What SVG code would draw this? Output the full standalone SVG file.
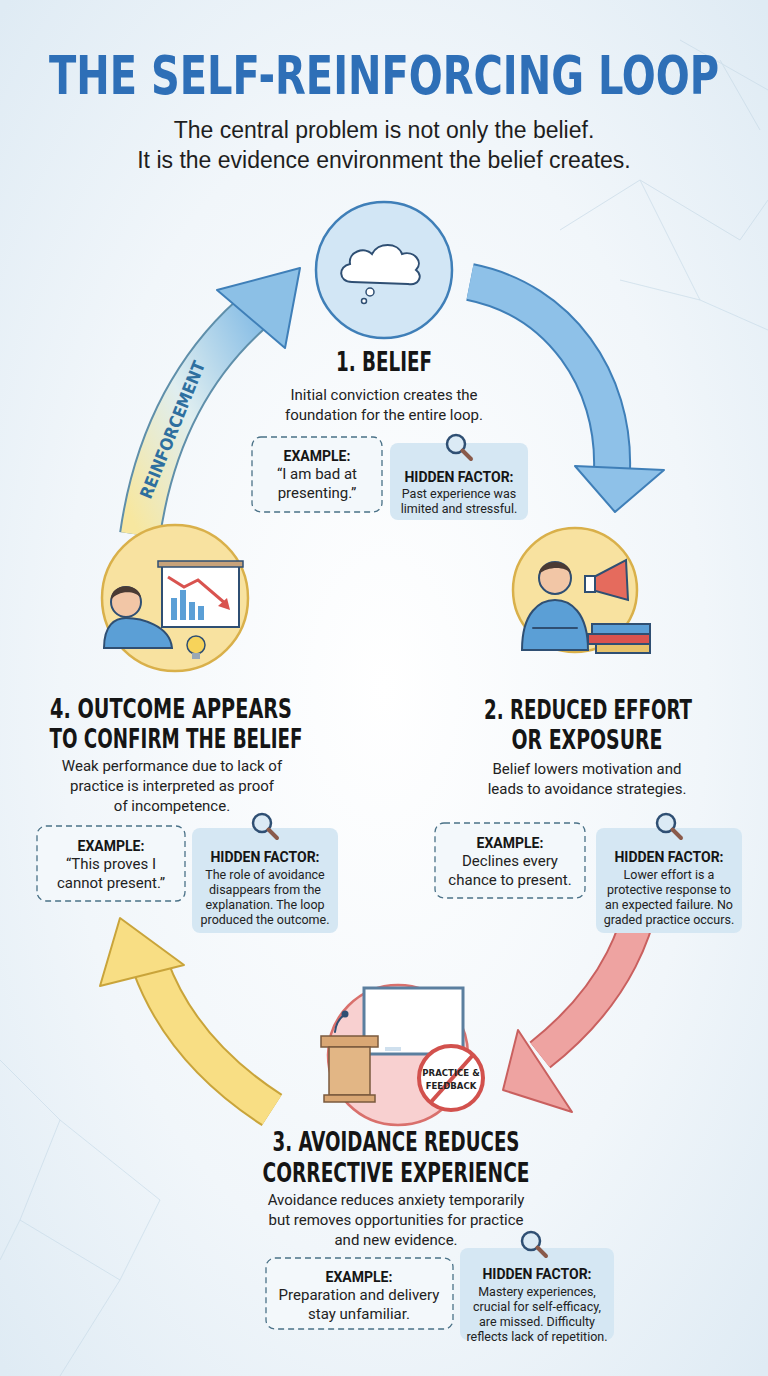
<svg xmlns="http://www.w3.org/2000/svg" width="768" height="1376" viewBox="0 0 768 1376">
<defs>
<radialGradient id="bg" cx="0.5" cy="0.5" r="0.7"><stop offset="0" stop-color="#ffffff"/><stop offset="0.6" stop-color="#f1f6fa"/><stop offset="1" stop-color="#dfebf4"/></radialGradient>
<linearGradient id="rg" x1="0" y1="1" x2="1" y2="0"><stop offset="0" stop-color="#f7e7a0"/><stop offset="0.5" stop-color="#dfeef0"/><stop offset="1" stop-color="#8cc0e6"/></linearGradient>
<g id="mag"><circle cx="0" cy="0" r="9" fill="#dbeaf5" stroke="#2f4f73" stroke-width="2.5"/><line x1="6.5" y1="6.5" x2="15" y2="15" stroke="#8a5a4a" stroke-width="4" stroke-linecap="round"/></g>
</defs>
<style>
.title{font-family:"DejaVu Sans Condensed","DejaVu Sans",sans-serif;font-weight:bold;fill:#2e6fb7}
.sub{font-family:"Liberation Sans",Arial,sans-serif;font-size:23px;fill:#1e1e1e;text-anchor:middle}
.h{font-family:"DejaVu Sans Condensed","DejaVu Sans",sans-serif;font-weight:bold;font-size:27px;fill:#151515;text-anchor:middle}
.t{font-family:"Roboto","Liberation Sans",sans-serif;font-size:15px;fill:#222;text-anchor:middle}
.lb{font-family:"Roboto","Liberation Sans",sans-serif;font-weight:bold;font-size:14px;fill:#151515;text-anchor:middle}
.ex{font-family:"Roboto","Liberation Sans",sans-serif;font-size:15px;fill:#222;text-anchor:middle}
.hf{font-family:"Roboto","Liberation Sans",sans-serif;font-size:12.5px;fill:#222;text-anchor:middle}
.exbox{fill:#f3f8fb;stroke:#4a7187;stroke-width:1.3;stroke-dasharray:6 4}
.hbox{fill:#d5e7f3}
.ln{stroke:#2f4f73;stroke-width:2;fill:none;stroke-linecap:round;stroke-linejoin:round}
</style>
<rect width="768" height="1376" fill="url(#bg)"/>
<g stroke="#c9dbe8" stroke-width="1" fill="none" opacity="0.7">
<path d="M560 230 L640 180 L740 240 L768 200 M640 180 L700 300 L768 330 M700 300 L620 280"/>
<path d="M0 1060 L60 1120 L20 1220 L120 1280 L60 1376 M60 1120 L160 1200 L120 1280 M20 1220 L0 1260"/>
<path d="M680 40 L768 90 M720 60 L760 130"/>
</g>
<text x="384" y="94" class="title" font-size="54" text-anchor="middle" textLength="670" lengthAdjust="spacingAndGlyphs">THE SELF-REINFORCING LOOP</text>
<text x="384" y="138" class="sub">The central problem is not only the belief.</text>
<text x="384" y="168" class="sub">It is the evidence environment the belief creates.</text>
<g id="connectors">
<path d="M470 282 C560 300 615 380 612 470" fill="none" stroke="#3f7fb8" stroke-width="38"/>
<path d="M470 282 C560 300 615 380 612 470" fill="none" stroke="#8ec1e8" stroke-width="34"/>
<polygon points="575,466 664,470 615,512" fill="#8ec1e8" stroke="#3f7fb8" stroke-width="2" stroke-linejoin="round"/>
<path d="M650 832 C650 930 610 1000 540 1055" fill="none" stroke="#c9605f" stroke-width="34"/>
<path d="M650 832 C650 930 610 1000 540 1055" fill="none" stroke="#eea3a1" stroke-width="30"/>
<polygon points="503,1090 518,1030 572,1112" fill="#eea3a1" stroke="#c9605f" stroke-width="2" stroke-linejoin="round"/>
<path d="M272 1110 C210 1070 170 1020 150 965" fill="none" stroke="#c9a43a" stroke-width="38"/>
<path d="M272 1110 C210 1070 170 1020 150 965" fill="none" stroke="#f8de84" stroke-width="34"/>
<polygon points="120,918 100,986 184,965" fill="#f8de84" stroke="#c9a43a" stroke-width="2" stroke-linejoin="round"/>
<path d="M140 535 C155 430 200 360 250 315" fill="none" stroke="#5f8faa" stroke-width="42"/>
<path d="M140 535 C155 430 200 360 250 315" fill="none" stroke="url(#rg)" stroke-width="38"/>
<polygon points="300,268 217,290 285,348" fill="#8cc0e6" stroke="#3f7fb8" stroke-width="2" stroke-linejoin="round"/>
<text transform="translate(178,432) rotate(-68)" font-family="DejaVu Sans Condensed,DejaVu Sans,sans-serif" font-weight="bold" font-size="17" fill="#2e6f9f" text-anchor="middle">REINFORCEMENT</text>
</g>
<g id="node1">
<circle cx="384" cy="270" r="68" fill="#d2e6f5" stroke="#3f7fb8" stroke-width="2.5"/>
<path d="M352 282 C338 282 338 266 350 264 C348 252 364 246 372 254 C378 242 398 242 402 254 C414 250 424 262 416 270 C424 276 418 286 408 284 Z" fill="#fff" stroke="#2f4f73" stroke-width="2"/>
<circle cx="370" cy="292" r="4" fill="#fff" stroke="#2f4f73" stroke-width="1.5"/>
<circle cx="364" cy="301" r="2.5" fill="#fff" stroke="#2f4f73" stroke-width="1.5"/>
<text x="384" y="371" class="h" textLength="96" lengthAdjust="spacingAndGlyphs">1. BELIEF</text>
<text x="384" y="400" class="t">Initial conviction creates the</text>
<text x="384" y="420" class="t">foundation for the entire loop.</text>
<rect x="252" y="437" width="130" height="75" rx="9" class="exbox"/>
<text x="317" y="461" class="lb">EXAMPLE:</text>
<text x="317" y="479" class="ex">“I am bad at</text>
<text x="317" y="498" class="ex">presenting.”</text>
<rect x="390" y="443" width="138" height="77" rx="8" class="hbox"/>
<use href="#mag" x="456" y="444"/>
<text x="459" y="482" class="lb">HIDDEN FACTOR:</text>
<text x="459" y="498" class="hf">Past experience was</text>
<text x="459" y="513" class="hf">limited and stressful.</text>
</g>
<g id="node2">
<circle cx="575" cy="590" r="62" fill="#f8e2a0" stroke="#d9b04a" stroke-width="2.5"/>
<circle cx="555" cy="578" r="16" fill="#f2c6a6" stroke="#2f4f73" stroke-width="2"/>
<path d="M539 574 C540 558 570 558 571 574 C566 566 548 566 539 574 Z" fill="#4a3a33"/>
<path d="M522 650 C522 612 540 600 555 600 C570 600 588 612 588 650 Z" fill="#5b9fd6" stroke="#2f4f73" stroke-width="2"/>
<path d="M533 628 L577 628" class="ln"/>
<polygon points="592,578 626,560 628,600 592,590" fill="#e56b5d" stroke="#2f4f73" stroke-width="2"/>
<rect x="585" y="576" width="10" height="16" fill="#fff" stroke="#2f4f73" stroke-width="2"/>
<rect x="592" y="624" width="58" height="10" fill="#5b9fd6" stroke="#2f4f73" stroke-width="2"/>
<rect x="588" y="634" width="62" height="10" fill="#d9534f" stroke="#2f4f73" stroke-width="2"/>
<rect x="596" y="644" width="54" height="9" fill="#e7c26a" stroke="#2f4f73" stroke-width="2"/>
<text x="588" y="719" class="h" textLength="208" lengthAdjust="spacingAndGlyphs">2. REDUCED EFFORT</text>
<text x="587" y="749" class="h" textLength="151" lengthAdjust="spacingAndGlyphs">OR EXPOSURE</text>
<text x="587" y="774" class="t">Belief lowers motivation and</text>
<text x="587" y="794" class="t">leads to avoidance strategies.</text>
<rect x="435" y="823" width="150" height="75" rx="9" class="exbox"/>
<text x="510" y="848" class="lb">EXAMPLE:</text>
<text x="510" y="866" class="ex">Declines every</text>
<text x="510" y="885" class="ex">chance to present.</text>
<rect x="596" y="828" width="146" height="105" rx="8" class="hbox"/>
<use href="#mag" x="666" y="823"/>
<text x="669" y="862" class="lb">HIDDEN FACTOR:</text>
<text x="669" y="879" class="hf">Lower effort is a</text>
<text x="669" y="894" class="hf">protective response to</text>
<text x="669" y="909" class="hf">an expected failure. No</text>
<text x="669" y="924" class="hf">graded practice occurs.</text>
</g>
<g id="node3">
<circle cx="398" cy="1055" r="70" fill="#f8d0d0" stroke="#d9706c" stroke-width="2.5"/>
<rect x="364" y="988" width="99" height="66" fill="#fff" stroke="#5b7f9f" stroke-width="3"/>
<rect x="385" y="1047" width="16" height="4" fill="#cfe0ee"/>
<path d="M335 1032 C336 1022 340 1018 344 1015" class="ln"/>
<circle cx="345" cy="1014" r="3.5" fill="#2f4f73"/>
<rect x="321" y="1036" width="57" height="11" fill="#d9a774" stroke="#7a5a3e" stroke-width="1.5"/>
<rect x="329" y="1047" width="41" height="48" fill="#e2b685" stroke="#7a5a3e" stroke-width="1.5"/>
<rect x="324" y="1095" width="51" height="7" fill="#d9a774" stroke="#7a5a3e" stroke-width="1.5"/>
<circle cx="451" cy="1078" r="32" fill="#fff" stroke="#d2514d" stroke-width="4"/>
<line x1="431" y1="1102" x2="473" y2="1055" stroke="#d2514d" stroke-width="4"/>
<text x="451" y="1076" font-family="DejaVu Sans Condensed,sans-serif" font-weight="bold" font-size="9.5" fill="#222" text-anchor="middle">PRACTICE &amp;</text>
<text x="451" y="1089" font-family="DejaVu Sans Condensed,sans-serif" font-weight="bold" font-size="9.5" fill="#222" text-anchor="middle">FEEDBACK</text>
<text x="396" y="1151" class="h" textLength="247" lengthAdjust="spacingAndGlyphs">3. AVOIDANCE REDUCES</text>
<text x="396" y="1182" class="h" textLength="267" lengthAdjust="spacingAndGlyphs">CORRECTIVE EXPERIENCE</text>
<text x="396" y="1205" class="t">Avoidance reduces anxiety temporarily</text>
<text x="396" y="1225" class="t">but removes opportunities for practice</text>
<text x="396" y="1245" class="t">and new evidence.</text>
<rect x="266" y="1258" width="187" height="71" rx="9" class="exbox"/>
<text x="359" y="1282" class="lb">EXAMPLE:</text>
<text x="359" y="1300" class="ex">Preparation and delivery</text>
<text x="359" y="1319" class="ex">stay unfamiliar.</text>
<rect x="460" y="1248" width="154" height="92" rx="8" class="hbox"/>
<use href="#mag" x="531" y="1241"/>
<text x="537" y="1279" class="lb">HIDDEN FACTOR:</text>
<text x="537" y="1296" class="hf">Mastery experiences,</text>
<text x="537" y="1311" class="hf">crucial for self-efficacy,</text>
<text x="537" y="1326" class="hf">are missed. Difficulty</text>
<text x="537" y="1341" class="hf">reflects lack of repetition.</text>
</g>
<g id="node4">
<circle cx="175" cy="598" r="73" fill="#f8e2a0" stroke="#d9b04a" stroke-width="2.5"/>
<rect x="162" y="565" width="77" height="62" fill="#fff" stroke="#2f4f73" stroke-width="2"/>
<rect x="158" y="561" width="85" height="6" fill="#c7a27a" stroke="#2f4f73" stroke-width="1.5"/>
<rect x="171" y="598" width="6" height="22" fill="#5b9fd6"/><rect x="180" y="590" width="6" height="30" fill="#5b9fd6"/><rect x="189" y="602" width="6" height="18" fill="#5b9fd6"/><rect x="198" y="606" width="6" height="14" fill="#5b9fd6"/>
<path d="M168 577 L184 587 L198 580 L226 604" stroke="#d9534f" stroke-width="3" fill="none"/>
<polygon points="230,610 218,606 227,598" fill="#d9534f"/>
<circle cx="126" cy="602" r="15" fill="#f2c6a6" stroke="#2f4f73" stroke-width="2"/>
<path d="M111 600 C110 582 140 582 141 598 C135 590 118 590 111 600 Z" fill="#4a3a33"/>
<path d="M104 648 C104 625 115 618 126 618 C140 618 170 625 172 648 Z" fill="#5b9fd6" stroke="#2f4f73" stroke-width="2"/>
<circle cx="196" cy="645" r="9" fill="#f7d35a" stroke="#2f4f73" stroke-width="1.5"/>
<rect x="192" y="653" width="8" height="6" fill="#9aa8b5"/>
<text x="171" y="718" class="h" textLength="242" lengthAdjust="spacingAndGlyphs">4. OUTCOME APPEARS</text>
<text x="176" y="748" class="h" textLength="253" lengthAdjust="spacingAndGlyphs">TO CONFIRM THE BELIEF</text>
<text x="172" y="771" class="t">Weak performance due to lack of</text>
<text x="172" y="791" class="t">practice is interpreted as proof</text>
<text x="172" y="811" class="t">of incompetence.</text>
<rect x="37" y="826" width="148" height="75" rx="9" class="exbox"/>
<text x="111" y="851" class="lb">EXAMPLE:</text>
<text x="111" y="869" class="ex">“This proves I</text>
<text x="111" y="888" class="ex">cannot present.”</text>
<rect x="192" y="828" width="146" height="105" rx="8" class="hbox"/>
<use href="#mag" x="262" y="823"/>
<text x="265" y="862" class="lb">HIDDEN FACTOR:</text>
<text x="265" y="879" class="hf">The role of avoidance</text>
<text x="265" y="894" class="hf">disappears from the</text>
<text x="265" y="909" class="hf">explanation. The loop</text>
<text x="265" y="924" class="hf">produced the outcome.</text>
</g>
</svg>
